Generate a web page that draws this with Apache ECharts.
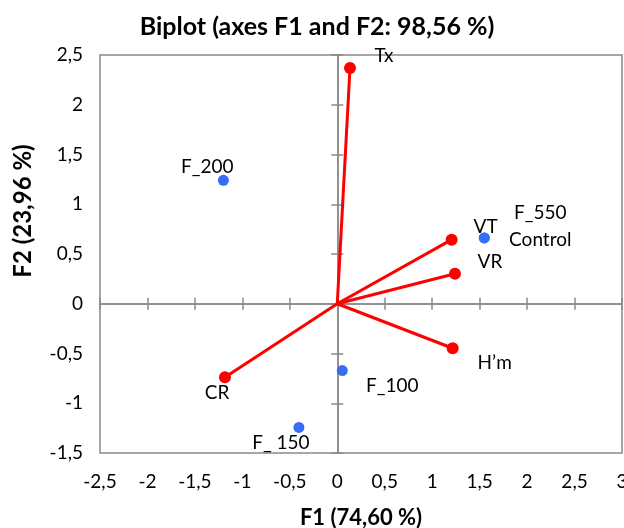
<!DOCTYPE html>
<html><head><meta charset="utf-8">
<script src="https://cdn.jsdelivr.net/npm/echarts@6/dist/echarts.min.js"></script>
<style>html,body{margin:0;padding:0;background:#fff}#c{width:624px;height:528px}</style>
</head><body><div id="c"></div>
<script>
// ---- data ----
const titleText = 'Biplot (axes F1 and F2: 98,56 %)';
const xAxisName = 'F1 (74,60 %)';
const yAxisName = 'F2 (23,96 %)';
const xRange = [-2.5, 3];
const yRange = [-1.5, 2.5];
const tickStep = 0.5;

const varNames = ['Tx', 'VT', 'VR', 'H’m', 'CR'];
const varF1 = [0.134, 1.205, 1.24, 1.216, -1.183];
const varF2 = [2.37, 0.644, 0.302, -0.447, -0.739];

const obsNames = ['F_200', 'F_550', 'Control', 'F_100', 'F_ 150'];
const obsF1 = [-1.20, 1.549, 1.549, 0.053, -0.404];
const obsF2 = [1.24, 0.661, 0.661, -0.672, -1.243];

// ---- styles (label offsets in px) ----
const labelOffset = {
  'Tx': [34, -12], 'VT': [34, -13], 'VR': [35, -12], 'H’m': [42, 15], 'CR': [-8, 16],
  'F_200': [-16, -13], 'F_550': [56, -25], 'Control': [56, 2], 'F_100': [50, 15], 'F_ 150': [-18, 15]
};
const FONT = 'Lato, "Open Sans", sans-serif';
const GRAY = '#8a8a8a';
const fmt = v => String(v).replace('.', ',');

const chart = echarts.init(document.getElementById('c'), null, {renderer: 'canvas'});

function baseAxis(extra) {
  return Object.assign({
    type: 'value', interval: tickStep,
    splitLine: {show: false}
  }, extra);
}
function xA(extra) { return baseAxis(Object.assign({min: xRange[0], max: xRange[1]}, extra)); }
function yA(extra) { return baseAxis(Object.assign({min: yRange[0], max: yRange[1]}, extra)); }

const lineStyle = {color: GRAY, width: 1.5};
const labelStyle = {show: true, position: 'inside', color: '#000', fontFamily: FONT, fontSize: 19, opacity: 1};

const series = [];
varNames.forEach((n, i) => {
  series.push({
    type: 'line', name: n, xAxisIndex: 0, yAxisIndex: 0,
    symbol: 'circle', showSymbol: true,
    symbolSize: (v, p) => p.dataIndex === 1 ? 12 : 0,
    lineStyle: {color: '#ff0000', width: 3},
    itemStyle: {color: '#ff0000', opacity: 1},
    z: 3, animation: false, silent: true,
    data: [
      {value: [0, 0], label: {show: false}},
      {value: [varF1[i], varF2[i]], name: n,
       label: Object.assign({}, labelStyle, {formatter: n, offset: labelOffset[n]})}
    ]
  });
});
series.push({
  type: 'scatter', name: 'obs', xAxisIndex: 0, yAxisIndex: 0,
  symbol: 'circle', symbolSize: 11,
  itemStyle: {color: '#3a6df5', opacity: 1}, z: 2, animation: false, silent: true,
  data: obsNames.map((n, i) => ({
    value: [obsF1[i], obsF2[i]], name: n,
    label: Object.assign({}, labelStyle, {formatter: n, offset: labelOffset[n]})
  }))
});

chart.setOption({
  animation: false,
  backgroundColor: '#fff',
  title: {
    text: titleText, left: 312, textAlign: 'center', top: 9,
    textStyle: {fontFamily: FONT, fontWeight: 'bold', fontSize: 25, color: '#000'}
  },
  grid: {left: 100, top: 55, right: 2, bottom: 75, show: true, borderColor: GRAY, borderWidth: 1.5,
         containLabel: false, outerBoundsMode: 'none'},
  xAxis: [
    xA({position: 'bottom', axisLine: {show: false, onZero: false}, axisTick: {show: false},
        axisLabel: {show: true, formatter: fmt, color: '#000', fontFamily: FONT, fontSize: 19, margin: 19,
                    showMinLabel: true, showMaxLabel: true, hideOverlap: false}}),
    xA({position: 'bottom', axisLine: {show: true, onZero: true, onZeroAxisIndex: 0, lineStyle},
        axisTick: {show: true, inside: true, length: 6, lineStyle}, axisLabel: {show: false}}),
    xA({position: 'bottom', axisLine: {show: true, onZero: true, onZeroAxisIndex: 0, lineStyle},
        axisTick: {show: true, inside: false, length: 6, lineStyle}, axisLabel: {show: false}})
  ],
  yAxis: [
    yA({position: 'left', axisLine: {show: false, onZero: false}, axisTick: {show: false},
        axisLabel: {show: true, formatter: fmt, color: '#000', fontFamily: FONT, fontSize: 19, margin: 17,
                    showMinLabel: true, showMaxLabel: true, hideOverlap: false}}),
    yA({position: 'left', axisLine: {show: true, onZero: true, onZeroAxisIndex: 0, lineStyle},
        axisTick: {show: true, inside: true, length: 6, lineStyle}, axisLabel: {show: false}}),
    yA({position: 'left', axisLine: {show: true, onZero: true, onZeroAxisIndex: 0, lineStyle},
        axisTick: {show: true, inside: false, length: 6, lineStyle}, axisLabel: {show: false}})
  ],
  graphic: [
    {type: 'text', x: 361, y: 518, style: {text: xAxisName, fontFamily: FONT, fontWeight: 'bold', fontSize: 22,
      fill: '#000', align: 'center', verticalAlign: 'middle'}},
    {type: 'text', x: 23, y: 211, rotation: Math.PI / 2, style: {text: yAxisName, fontFamily: FONT, fontWeight: 'bold', fontSize: 24,
      fill: '#000', align: 'center', verticalAlign: 'middle'}}
  ],
  series: series
});
</script>
</body></html>
